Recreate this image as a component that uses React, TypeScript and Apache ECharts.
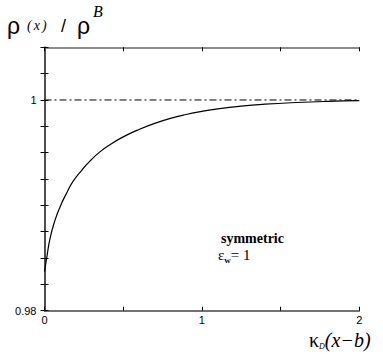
import React, { useEffect, useRef } from "react";
import * as echarts from "echarts";

const xValues = [0, 0.015, 0.035, 0.067, 0.1, 0.14, 0.18, 0.24, 0.29, 0.35, 0.42, 0.5, 0.6, 0.7, 0.8, 0.9, 1.0, 1.1, 1.25, 1.4, 1.6, 1.8, 2.0];
const densityRatio = [0.9837, 0.9851, 0.98685, 0.9886, 0.9899, 0.99115, 0.99225, 0.9934, 0.99422, 0.99505, 0.9958, 0.9965, 0.9972, 0.99778, 0.99825, 0.99862, 0.99892, 0.99916, 0.99942, 0.9996, 0.99976, 0.99987, 0.99994];
const bulkLine = [[0, 1], [2, 1]];
const yTickLabels = [0.98, 1];
const xTickLabels = [0, 1, 2];

export default function App() {
  const ref = useRef<HTMLDivElement>(null);
  useEffect(() => {
    const chart = echarts.init(ref.current!, null, { renderer: "svg" });
    const sans = "Liberation Sans";
    const serif = "Liberation Serif";
    const tick = () => ({ show: true, inside: true, length: 4, lineStyle: { color: "#000", width: 1 } });
    chart.setOption({
      animation: false,
      backgroundColor: "#fff",
      grid: { left: 44.5, right: 23.7, top: 47.3, bottom: 53.3 },
      xAxis: [
        {
          type: "value", min: 0, max: 2, interval: 0.5, position: "bottom",
          axisLine: { show: true, lineStyle: { color: "#444", width: 1.5 } },
          axisTick: tick(),
          splitLine: { show: false },
          axisLabel: {
            color: "#000", fontFamily: sans, fontSize: 11, margin: 4,
            showMinLabel: true, showMaxLabel: true,
            formatter: (v: number) => (xTickLabels.includes(v) ? String(v) : ""),
          },
        },
        {
          type: "value", min: 0, max: 2, interval: 0.5, position: "top",
          axisLine: { show: true, lineStyle: { color: "#666", width: 1.5 } },
          axisTick: tick(), splitLine: { show: false }, axisLabel: { show: false },
        },
      ],
      yAxis: [
        {
          type: "value", min: 0.98, max: 1.005, interval: 0.0025, position: "left",
          axisLine: { show: true, lineStyle: { color: "#000", width: 1.5 } },
          axisTick: tick(), splitLine: { show: false },
          axisLabel: {
            color: "#000", fontFamily: sans, fontSize: 11, margin: 8,
            showMinLabel: true,
            formatter: (v: number) => {
              const m = yTickLabels.find((t) => Math.abs(t - v) < 1e-9);
              return m === undefined ? "" : String(m);
            },
          },
        },
        {
          type: "value", min: 0.98, max: 1.005, interval: 0.0025, position: "right",
          axisLine: { show: true, lineStyle: { color: "#555", width: 1.5 } },
          axisTick: tick(), splitLine: { show: false }, axisLabel: { show: false },
        },
      ],
      series: [
        {
          type: "line",
          data: bulkLine,
          symbol: "none",
          lineStyle: { color: "#000", width: 1, type: [7, 3, 2, 3] },
        },
        {
          type: "line",
          data: xValues.map((x, i) => [x, densityRatio[i]]),
          symbol: "none",
          smooth: 0.5,
          lineStyle: { color: "#000", width: 1.2 },
        },
      ],
      graphic: [
        { type: "text", left: 7, top: 14, style: { text: "ρ", fontFamily: sans, fontSize: 23, fill: "#000" } },
        {
          type: "text", left: 27, top: 18,
          style: {
            text: "{p|(}{x|x}{p|)}",
            rich: {
              p: { fontFamily: serif, fontStyle: "italic", fontSize: 14, fill: "#000", padding: [0, 1, 0, 1] },
              x: { fontFamily: serif, fontStyle: "italic", fontSize: 14, fill: "#000", padding: [0, 1, 0, 1] },
            },
          },
        },
        { type: "text", left: 61, top: 17, style: { text: "/", fontFamily: sans, fontSize: 18, fill: "#000" } },
        { type: "text", left: 77, top: 14, style: { text: "ρ", fontFamily: sans, fontSize: 23, fill: "#000" } },
        { type: "text", left: 93, top: 3, style: { text: "B", fontFamily: serif, fontStyle: "italic", fontSize: 16, fill: "#000" } },
        {
          type: "text", left: 309, top: 330,
          style: {
            text: "{k|κ}{d|D}{e|(x−b)}",
            rich: {
              k: { fontFamily: serif, fontSize: 20, fill: "#000" },
              d: { fontFamily: serif, fontStyle: "italic", fontSize: 8, fill: "#000", padding: [13, 0, 0, 0] },
              e: { fontFamily: serif, fontStyle: "italic", fontSize: 20, fill: "#000" },
            },
          },
        },
        {
          type: "text", left: 221, top: 231,
          style: { text: "symmetric", fontFamily: serif, fontWeight: "bold", fontSize: 14, fill: "#000" },
        },
        {
          type: "text", left: 218, top: 247,
          style: {
            text: "{e|ε}{w|w}{t|= 1}",
            rich: {
              e: { fontFamily: serif, fontSize: 15, fill: "#000" },
              w: { fontFamily: serif, fontSize: 9, fontWeight: "bold", fill: "#000", padding: [10, 0, 0, 0] },
              t: { fontFamily: serif, fontSize: 15, fill: "#000" },
            },
          },
        },
      ],
    });
    return () => chart.dispose();
  }, []);
  return <div ref={ref} style={{ width: 383, height: 364, position: "absolute", left: 0, top: 0 }} />;
}
